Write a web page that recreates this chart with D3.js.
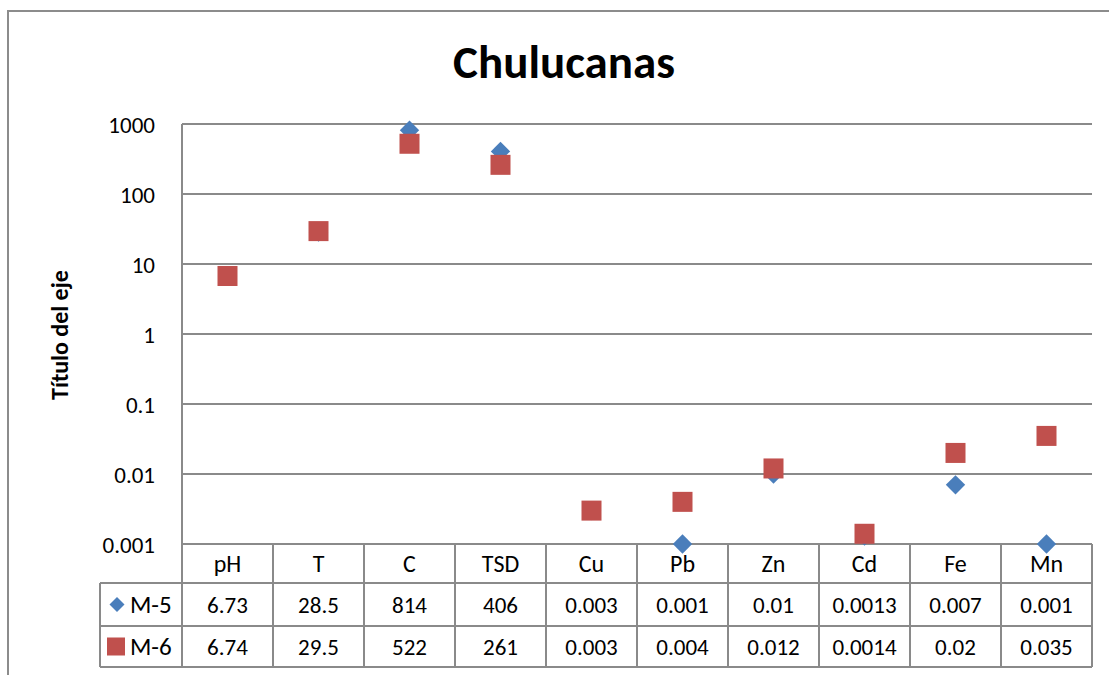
<!DOCTYPE html>
<html lang="es">
<head>
<meta charset="utf-8">
<title>Chulucanas</title>
<script src="https://cdn.jsdelivr.net/npm/d3@7"></script>
<style>
  body { margin: 0; background: #fff; }
  svg text { font-family: Calibri, Carlito, Lato, "Open Sans", sans-serif; fill: #000; }
</style>
</head>
<body>
<div id="chart"></div>
<script>
// data
var categories = ["pH", "T", "C", "TSD", "Cu", "Pb", "Zn", "Cd", "Fe", "Mn"]
var m5 = [6.73, 28.5, 814, 406, 0.003, 0.001, 0.01, 0.0013, 0.007, 0.001]
var m6 = [6.74, 29.5, 522, 261, 0.003, 0.004, 0.012, 0.0014, 0.02, 0.035]
var m5Labels = ["6.73", "28.5", "814", "406", "0.003", "0.001", "0.01", "0.0013", "0.007", "0.001"]
var m6Labels = ["6.74", "29.5", "522", "261", "0.003", "0.004", "0.012", "0.0014", "0.02", "0.035"]
var yTicks = [0.001, 0.01, 0.1, 1, 10, 100, 1000]
var yTickLabels = ["0.001", "0.01", "0.1", "1", "10", "100", "1000"]

var W = 1109, H = 675
var pLeft = 182, pRight = 1092, pTop = 124, pBottom = 544
var rows = [544, 583, 626, 667]
var gridColor = "#8a8a8a"
var blue = "#4a7ebb", red = "#c0504d"
var fs = 23

var svg = d3.select("#chart").append("svg")
  .attr("width", W).attr("height", H)

// outer chart border (runs past the window)
svg.append("rect")
  .attr("x", 8).attr("y", 11)
  .attr("width", W + 20).attr("height", H + 20)
  .attr("fill", "none").attr("stroke", "#8c8c8c").attr("stroke-width", 2)

var x = d3.scaleBand().domain(categories).range([pLeft, pRight])
var y = d3.scaleLog().domain([0.001, 1000]).range([pBottom, pTop])

// gridlines
svg.append("g").selectAll("line")
  .data(yTicks)
  .join("line")
  .attr("x1", pLeft).attr("x2", pRight)
  .attr("y1", function(d){ return y(d) }).attr("y2", function(d){ return y(d) })
  .attr("stroke", gridColor).attr("stroke-width", 2)

// y axis
var yAxis = d3.axisLeft(y).tickValues(yTicks)
  .tickFormat(function(d, i){ return yTickLabels[i] })
  .tickSize(0).tickPadding(27)
var gy = svg.append("g").attr("transform", "translate(" + pLeft + ",0)").call(yAxis)
gy.select(".domain").remove()
gy.selectAll("text").attr("font-size", fs).attr("dy", "0.35em")
  .style("font-family", "Calibri, Carlito, Lato, sans-serif")
svg.append("line")
  .attr("x1", pLeft).attr("x2", pLeft).attr("y1", pTop).attr("y2", pBottom)
  .attr("stroke", gridColor).attr("stroke-width", 2)

// title
svg.append("text")
  .attr("x", 564).attr("y", 78)
  .attr("text-anchor", "middle")
  .attr("font-size", 47).attr("font-weight", "bold")
  .text("Chulucanas")

svg.append("text")
  .attr("transform", "translate(68,335) rotate(-90)")
  .attr("text-anchor", "middle")
  .attr("font-size", 24).attr("font-weight", "bold")
  .text("Título del eje")

// table
var table = svg.append("g")
var colEdges = categories.map(function(c){ return x(c) }).concat([pRight])
table.selectAll(".vline")
  .data(colEdges)
  .join("line")
  .attr("x1", function(d){ return d }).attr("x2", function(d){ return d })
  .attr("y1", rows[0]).attr("y2", rows[3])
  .attr("stroke", gridColor).attr("stroke-width", 2)
table.selectAll(".hline")
  .data(rows.slice(1))
  .join("line")
  .attr("x1", 100).attr("x2", pRight)
  .attr("y1", function(d){ return d }).attr("y2", function(d){ return d })
  .attr("stroke", gridColor).attr("stroke-width", 2)
table.append("line")
  .attr("x1", 100).attr("x2", 100).attr("y1", rows[1]).attr("y2", rows[3])
  .attr("stroke", gridColor).attr("stroke-width", 2)

table.selectAll(".cat")
  .data(categories)
  .join("text")
  .attr("x", function(d){ return x(d) + x.bandwidth() / 2 })
  .attr("y", (rows[0] + rows[1]) / 2 + 8)
  .attr("text-anchor", "middle").attr("font-size", 24)
  .text(function(d){ return d })

var series = [
  {name: "M-5", labels: m5Labels, row: 1},
  {name: "M-6", labels: m6Labels, row: 2}
]
series.forEach(function(s){
  var cy = (rows[s.row] + rows[s.row + 1]) / 2
  table.selectAll(".v" + s.row)
    .data(s.labels)
    .join("text")
    .attr("x", function(d, i){ return x(categories[i]) + x.bandwidth() / 2 })
    .attr("y", cy + 8)
    .attr("text-anchor", "middle").attr("font-size", fs)
    .text(function(d){ return d })
  table.append("text")
    .attr("x", 130).attr("y", cy + 8)
    .attr("font-size", 25)
    .text(s.name)
})

// legend keys in table
table.append("path")
  .attr("d", d3.symbol().type(d3.symbolDiamond2).size(144))
  .attr("transform", "translate(117," + ((rows[1] + rows[2]) / 2) + ")")
  .attr("fill", blue)
table.append("rect")
  .attr("x", 107).attr("y", (rows[2] + rows[3]) / 2 - 9)
  .attr("width", 18).attr("height", 18)
  .attr("fill", red)

// markers
var cx = function(d, i){ return x(categories[i]) + x.bandwidth() / 2 }
var diamond = d3.symbol().type(d3.symbolDiamond2).size(240)
svg.append("g").selectAll("path")
  .data(m5)
  .join("path")
  .attr("d", diamond)
  .attr("transform", function(d, i){ return "translate(" + cx(d, i) + "," + y(d) + ")" })
  .attr("fill", blue)
svg.append("g").selectAll("rect")
  .data(m6)
  .join("rect")
  .attr("x", function(d, i){ return cx(d, i) - 10 })
  .attr("y", function(d){ return y(d) - 10 })
  .attr("width", 20).attr("height", 20)
  .attr("fill", red)
</script>
</body>
</html>
